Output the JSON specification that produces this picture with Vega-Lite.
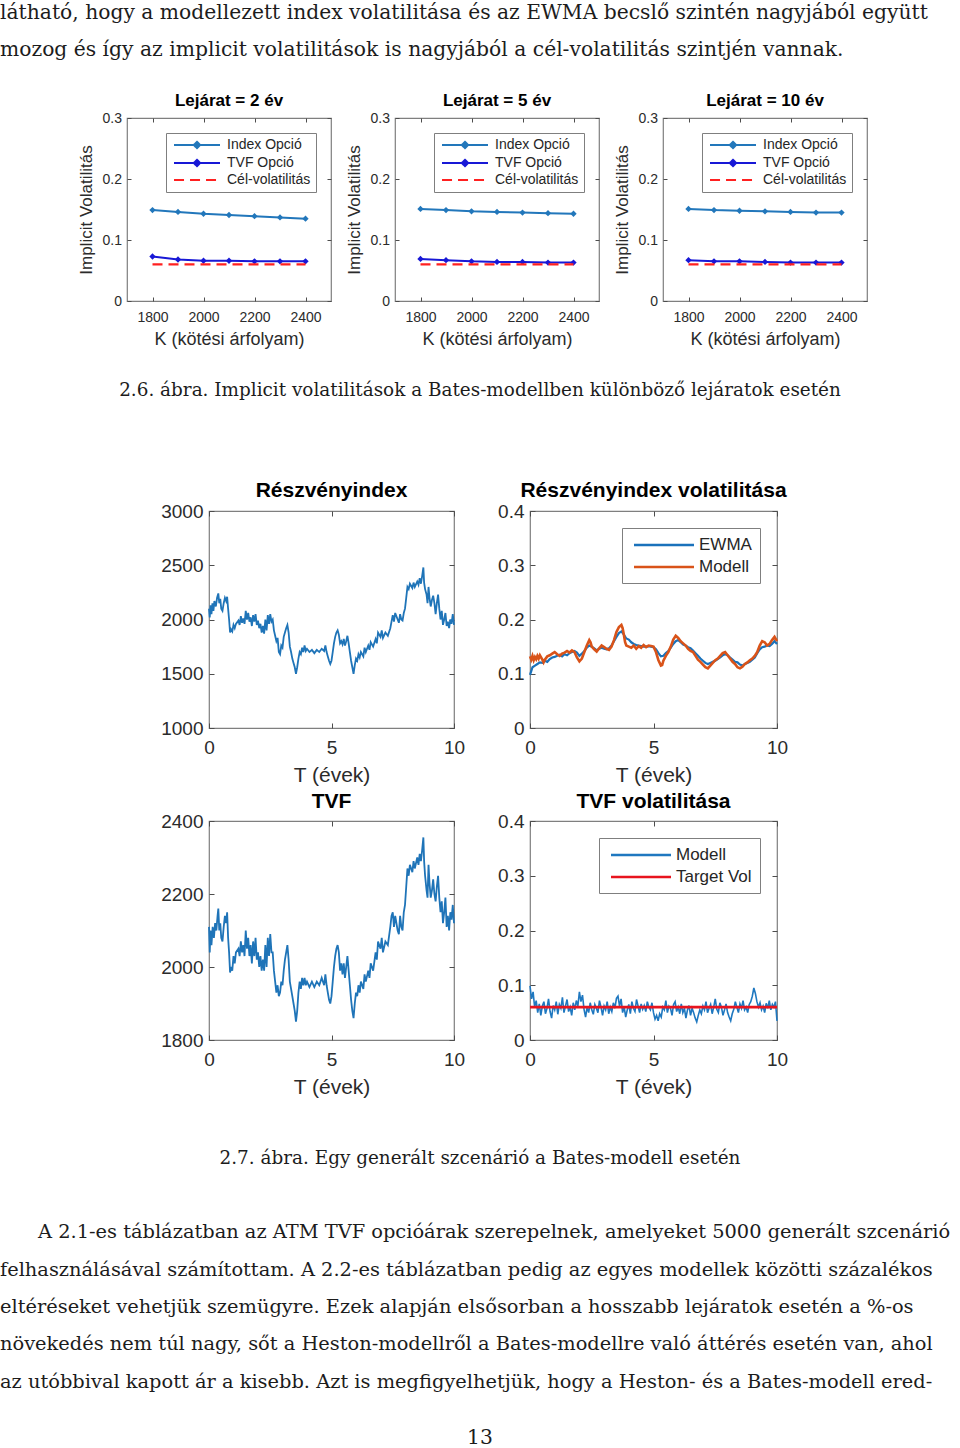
{
"$schema": "https://vega.github.io/schema/vega-lite/v6.json",
"background": "white",
"padding": 0,
"autosize": {"type": "pad"},
"spacing": 0,
"resolve": {"scale": {"color": "independent"}, "legend": {"color": "independent"}},
"config": {
  "view": {"stroke": null},
  "font": "Liberation Sans",
  "axis": {"grid": false, "domain": false, "tickColor": "#4d4d4d", "tickWidth": 1, "labelFont": "Liberation Sans", "labelColor": "#2b2b2b", "titleFont": "Liberation Sans", "titleFontWeight": "normal", "titleColor": "#2b2b2b", "labelFlush": false, "labelOverlap": false},
  "title": {"font": "Liberation Sans", "color": "#000000", "fontWeight": "bold", "anchor": "middle", "frame": "group", "baseline": "alphabetic"},
  "legend": {"title": null, "orient": "top-right", "fillColor": "white", "strokeColor": "#7f7f7f", "labelFont": "Liberation Sans", "labelColor": "#262626", "cornerRadius": 0}
},
"datasets": {
  "iv2": [
    {"K":1800,"vol":0.149,"series":"Index Opció"},{"K":1900,"vol":0.146,"series":"Index Opció"},{"K":2000,"vol":0.143,"series":"Index Opció"},{"K":2100,"vol":0.141,"series":"Index Opció"},{"K":2200,"vol":0.139,"series":"Index Opció"},{"K":2300,"vol":0.137,"series":"Index Opció"},{"K":2400,"vol":0.135,"series":"Index Opció"},
    {"K":1800,"vol":0.073,"series":"TVF Opció"},{"K":1900,"vol":0.068,"series":"TVF Opció"},{"K":2000,"vol":0.066,"series":"TVF Opció"},{"K":2100,"vol":0.066,"series":"TVF Opció"},{"K":2200,"vol":0.065,"series":"TVF Opció"},{"K":2300,"vol":0.065,"series":"TVF Opció"},{"K":2400,"vol":0.065,"series":"TVF Opció"},
    {"K":1800,"vol":0.06,"series":"Cél-volatilitás"},{"K":1900,"vol":0.06,"series":"Cél-volatilitás"},{"K":2000,"vol":0.06,"series":"Cél-volatilitás"},{"K":2100,"vol":0.06,"series":"Cél-volatilitás"},{"K":2200,"vol":0.06,"series":"Cél-volatilitás"},{"K":2300,"vol":0.06,"series":"Cél-volatilitás"},{"K":2400,"vol":0.06,"series":"Cél-volatilitás"}
  ],
  "iv5": [
    {"K":1800,"vol":0.151,"series":"Index Opció"},{"K":1900,"vol":0.149,"series":"Index Opció"},{"K":2000,"vol":0.147,"series":"Index Opció"},{"K":2100,"vol":0.146,"series":"Index Opció"},{"K":2200,"vol":0.145,"series":"Index Opció"},{"K":2300,"vol":0.144,"series":"Index Opció"},{"K":2400,"vol":0.143,"series":"Index Opció"},
    {"K":1800,"vol":0.069,"series":"TVF Opció"},{"K":1900,"vol":0.067,"series":"TVF Opció"},{"K":2000,"vol":0.065,"series":"TVF Opció"},{"K":2100,"vol":0.064,"series":"TVF Opció"},{"K":2200,"vol":0.064,"series":"TVF Opció"},{"K":2300,"vol":0.063,"series":"TVF Opció"},{"K":2400,"vol":0.063,"series":"TVF Opció"},
    {"K":1800,"vol":0.06,"series":"Cél-volatilitás"},{"K":1900,"vol":0.06,"series":"Cél-volatilitás"},{"K":2000,"vol":0.06,"series":"Cél-volatilitás"},{"K":2100,"vol":0.06,"series":"Cél-volatilitás"},{"K":2200,"vol":0.06,"series":"Cél-volatilitás"},{"K":2300,"vol":0.06,"series":"Cél-volatilitás"},{"K":2400,"vol":0.06,"series":"Cél-volatilitás"}
  ],
  "iv10": [
    {"K":1800,"vol":0.151,"series":"Index Opció"},{"K":1900,"vol":0.149,"series":"Index Opció"},{"K":2000,"vol":0.148,"series":"Index Opció"},{"K":2100,"vol":0.147,"series":"Index Opció"},{"K":2200,"vol":0.146,"series":"Index Opció"},{"K":2300,"vol":0.145,"series":"Index Opció"},{"K":2400,"vol":0.145,"series":"Index Opció"},
    {"K":1800,"vol":0.067,"series":"TVF Opció"},{"K":1900,"vol":0.065,"series":"TVF Opció"},{"K":2000,"vol":0.065,"series":"TVF Opció"},{"K":2100,"vol":0.064,"series":"TVF Opció"},{"K":2200,"vol":0.063,"series":"TVF Opció"},{"K":2300,"vol":0.063,"series":"TVF Opció"},{"K":2400,"vol":0.063,"series":"TVF Opció"},
    {"K":1800,"vol":0.06,"series":"Cél-volatilitás"},{"K":1900,"vol":0.06,"series":"Cél-volatilitás"},{"K":2000,"vol":0.06,"series":"Cél-volatilitás"},{"K":2100,"vol":0.06,"series":"Cél-volatilitás"},{"K":2200,"vol":0.06,"series":"Cél-volatilitás"},{"K":2300,"vol":0.06,"series":"Cél-volatilitás"},{"K":2400,"vol":0.06,"series":"Cél-volatilitás"}
  ],
  "idx": [
    {"t":0,"v":2100},{"t":0.03,"v":2020},{"t":0.06,"v":2130},{"t":0.1,"v":2050},{"t":0.14,"v":2150},{"t":0.18,"v":2080},{"t":0.22,"v":2170},{"t":0.28,"v":2120},{"t":0.33,"v":2200},{"t":0.38,"v":2240},{"t":0.42,"v":2150},{"t":0.46,"v":2190},{"t":0.5,"v":2100},{"t":0.55,"v":2080},{"t":0.6,"v":2150},{"t":0.65,"v":2200},{"t":0.7,"v":2170},{"t":0.74,"v":2210},{"t":0.78,"v":2100},{"t":0.82,"v":2000},{"t":0.86,"v":1880},{"t":0.9,"v":1910},{"t":0.95,"v":1890},{"t":1.0,"v":1950},{"t":1.05,"v":1920},{"t":1.1,"v":1960},{"t":1.2,"v":1990},{"t":1.25,"v":1950},{"t":1.3,"v":2030},{"t":1.35,"v":1970},{"t":1.4,"v":2010},{"t":1.45,"v":1960},{"t":1.5,"v":2080},{"t":1.55,"v":2000},{"t":1.6,"v":2060},{"t":1.65,"v":1980},{"t":1.7,"v":2020},{"t":1.75,"v":1940},{"t":1.8,"v":2040},{"t":1.85,"v":1980},{"t":1.9,"v":2050},{"t":1.95,"v":1950},{"t":2.0,"v":1990},{"t":2.05,"v":1920},{"t":2.1,"v":1960},{"t":2.15,"v":1880},{"t":2.2,"v":1940},{"t":2.25,"v":1870},{"t":2.3,"v":2000},{"t":2.35,"v":1900},{"t":2.4,"v":2040},{"t":2.45,"v":1960},{"t":2.5,"v":2050},{"t":2.55,"v":1980},{"t":2.6,"v":2000},{"t":2.65,"v":1900},{"t":2.7,"v":1850},{"t":2.75,"v":1800},{"t":2.8,"v":1830},{"t":2.85,"v":1700},{"t":2.9,"v":1680},{"t":2.95,"v":1760},{"t":3.0,"v":1740},{"t":3.05,"v":1840},{"t":3.1,"v":1880},{"t":3.15,"v":1920},{"t":3.2,"v":1950},{"t":3.25,"v":1880},{"t":3.3,"v":1750},{"t":3.35,"v":1700},{"t":3.4,"v":1640},{"t":3.45,"v":1600},{"t":3.5,"v":1560},{"t":3.55,"v":1500},{"t":3.6,"v":1560},{"t":3.65,"v":1640},{"t":3.7,"v":1700},{"t":3.75,"v":1680},{"t":3.8,"v":1740},{"t":3.85,"v":1700},{"t":3.9,"v":1760},{"t":3.95,"v":1710},{"t":4.0,"v":1730},{"t":4.1,"v":1700},{"t":4.2,"v":1720},{"t":4.3,"v":1690},{"t":4.4,"v":1720},{"t":4.5,"v":1700},{"t":4.6,"v":1730},{"t":4.7,"v":1710},{"t":4.75,"v":1760},{"t":4.8,"v":1700},{"t":4.85,"v":1660},{"t":4.9,"v":1620},{"t":4.95,"v":1590},{"t":5.0,"v":1620},{"t":5.05,"v":1700},{"t":5.1,"v":1780},{"t":5.15,"v":1840},{"t":5.2,"v":1880},{"t":5.25,"v":1900},{"t":5.3,"v":1860},{"t":5.35,"v":1780},{"t":5.4,"v":1800},{"t":5.45,"v":1770},{"t":5.5,"v":1820},{"t":5.55,"v":1760},{"t":5.6,"v":1800},{"t":5.65,"v":1850},{"t":5.7,"v":1780},{"t":5.75,"v":1700},{"t":5.8,"v":1620},{"t":5.85,"v":1560},{"t":5.9,"v":1500},{"t":5.95,"v":1580},{"t":6.0,"v":1640},{"t":6.05,"v":1620},{"t":6.1,"v":1680},{"t":6.15,"v":1650},{"t":6.2,"v":1700},{"t":6.3,"v":1660},{"t":6.35,"v":1740},{"t":6.4,"v":1700},{"t":6.5,"v":1760},{"t":6.55,"v":1720},{"t":6.6,"v":1790},{"t":6.7,"v":1750},{"t":6.8,"v":1820},{"t":6.85,"v":1780},{"t":6.9,"v":1880},{"t":7.0,"v":1840},{"t":7.05,"v":1900},{"t":7.1,"v":1830},{"t":7.2,"v":1880},{"t":7.3,"v":1850},{"t":7.4,"v":1920},{"t":7.45,"v":1980},{"t":7.5,"v":2040},{"t":7.55,"v":1980},{"t":7.6,"v":2060},{"t":7.7,"v":2000},{"t":7.75,"v":1970},{"t":7.8,"v":2050},{"t":7.85,"v":2000},{"t":7.9,"v":1990},{"t":7.95,"v":2060},{"t":8.0,"v":2100},{"t":8.05,"v":2200},{"t":8.1,"v":2300},{"t":8.15,"v":2280},{"t":8.2,"v":2330},{"t":8.3,"v":2290},{"t":8.35,"v":2340},{"t":8.4,"v":2300},{"t":8.5,"v":2350},{"t":8.55,"v":2320},{"t":8.6,"v":2380},{"t":8.65,"v":2330},{"t":8.7,"v":2400},{"t":8.75,"v":2480},{"t":8.78,"v":2340},{"t":8.82,"v":2280},{"t":8.88,"v":2230},{"t":8.92,"v":2150},{"t":8.96,"v":2300},{"t":9.0,"v":2200},{"t":9.05,"v":2120},{"t":9.1,"v":2180},{"t":9.15,"v":2220},{"t":9.2,"v":2150},{"t":9.25,"v":2050},{"t":9.3,"v":2150},{"t":9.35,"v":2230},{"t":9.4,"v":2100},{"t":9.45,"v":2000},{"t":9.5,"v":2080},{"t":9.55,"v":1950},{"t":9.6,"v":2000},{"t":9.65,"v":2060},{"t":9.7,"v":1940},{"t":9.75,"v":1980},{"t":9.8,"v":1920},{"t":9.85,"v":2000},{"t":9.9,"v":1960},{"t":9.95,"v":2050},{"t":10.0,"v":1950}
  ],
  "tvf": [
    {"t":0,"v":2110},{"t":0.03,"v":2040},{"t":0.06,"v":2100},{"t":0.1,"v":2060},{"t":0.15,"v":2110},{"t":0.2,"v":2080},{"t":0.25,"v":2120},{"t":0.3,"v":2100},{"t":0.35,"v":2140},{"t":0.38,"v":2160},{"t":0.42,"v":2100},{"t":0.46,"v":2120},{"t":0.5,"v":2080},{"t":0.55,"v":2070},{"t":0.6,"v":2110},{"t":0.65,"v":2140},{"t":0.7,"v":2120},{"t":0.74,"v":2150},{"t":0.78,"v":2080},{"t":0.82,"v":2040},{"t":0.86,"v":1985},{"t":0.9,"v":2000},{"t":0.95,"v":1990},{"t":1.0,"v":2030},{"t":1.05,"v":2010},{"t":1.1,"v":2040},{"t":1.2,"v":2050},{"t":1.25,"v":2030},{"t":1.3,"v":2070},{"t":1.35,"v":2040},{"t":1.4,"v":2060},{"t":1.45,"v":2030},{"t":1.5,"v":2100},{"t":1.55,"v":2050},{"t":1.6,"v":2080},{"t":1.65,"v":2030},{"t":1.7,"v":2060},{"t":1.75,"v":2010},{"t":1.8,"v":2070},{"t":1.85,"v":2030},{"t":1.9,"v":2080},{"t":1.95,"v":2020},{"t":2.0,"v":2040},{"t":2.05,"v":2000},{"t":2.1,"v":2030},{"t":2.15,"v":1990},{"t":2.2,"v":2020},{"t":2.25,"v":1990},{"t":2.3,"v":2060},{"t":2.35,"v":2000},{"t":2.4,"v":2080},{"t":2.45,"v":2030},{"t":2.5,"v":2090},{"t":2.55,"v":2040},{"t":2.6,"v":2040},{"t":2.65,"v":1990},{"t":2.7,"v":1960},{"t":2.75,"v":1930},{"t":2.8,"v":1950},{"t":2.85,"v":1920},{"t":2.9,"v":1930},{"t":2.95,"v":1960},{"t":3.0,"v":1950},{"t":3.05,"v":1990},{"t":3.1,"v":2020},{"t":3.15,"v":2040},{"t":3.2,"v":2060},{"t":3.25,"v":2020},{"t":3.3,"v":1960},{"t":3.35,"v":1940},{"t":3.4,"v":1920},{"t":3.45,"v":1900},{"t":3.5,"v":1880},{"t":3.55,"v":1850},{"t":3.6,"v":1880},{"t":3.65,"v":1930},{"t":3.7,"v":1960},{"t":3.75,"v":1940},{"t":3.8,"v":1970},{"t":3.85,"v":1950},{"t":3.9,"v":1970},{"t":3.95,"v":1950},{"t":4.0,"v":1960},{"t":4.1,"v":1945},{"t":4.2,"v":1960},{"t":4.3,"v":1945},{"t":4.4,"v":1960},{"t":4.5,"v":1950},{"t":4.6,"v":1970},{"t":4.7,"v":1950},{"t":4.75,"v":1980},{"t":4.8,"v":1950},{"t":4.85,"v":1930},{"t":4.9,"v":1910},{"t":4.95,"v":1900},{"t":5.0,"v":1920},{"t":5.05,"v":1960},{"t":5.1,"v":2000},{"t":5.15,"v":2030},{"t":5.2,"v":2050},{"t":5.25,"v":2060},{"t":5.3,"v":2040},{"t":5.35,"v":1990},{"t":5.4,"v":2010},{"t":5.45,"v":1980},{"t":5.5,"v":2010},{"t":5.55,"v":1970},{"t":5.6,"v":2000},{"t":5.65,"v":2030},{"t":5.7,"v":1990},{"t":5.75,"v":1950},{"t":5.8,"v":1910},{"t":5.85,"v":1880},{"t":5.9,"v":1860},{"t":5.95,"v":1900},{"t":6.0,"v":1930},{"t":6.05,"v":1920},{"t":6.1,"v":1950},{"t":6.15,"v":1930},{"t":6.2,"v":1960},{"t":6.3,"v":1940},{"t":6.35,"v":1980},{"t":6.4,"v":1960},{"t":6.5,"v":1990},{"t":6.55,"v":1970},{"t":6.6,"v":2010},{"t":6.7,"v":1990},{"t":6.8,"v":2040},{"t":6.85,"v":2020},{"t":6.9,"v":2070},{"t":7.0,"v":2050},{"t":7.05,"v":2080},{"t":7.1,"v":2040},{"t":7.2,"v":2070},{"t":7.3,"v":2060},{"t":7.4,"v":2110},{"t":7.45,"v":2140},{"t":7.5,"v":2150},{"t":7.55,"v":2110},{"t":7.6,"v":2140},{"t":7.7,"v":2100},{"t":7.75,"v":2090},{"t":7.8,"v":2140},{"t":7.85,"v":2110},{"t":7.9,"v":2100},{"t":7.95,"v":2150},{"t":8.0,"v":2170},{"t":8.05,"v":2220},{"t":8.1,"v":2270},{"t":8.15,"v":2250},{"t":8.2,"v":2280},{"t":8.3,"v":2260},{"t":8.35,"v":2290},{"t":8.4,"v":2270},{"t":8.5,"v":2300},{"t":8.55,"v":2280},{"t":8.6,"v":2310},{"t":8.65,"v":2290},{"t":8.7,"v":2320},{"t":8.75,"v":2355},{"t":8.78,"v":2290},{"t":8.82,"v":2250},{"t":8.88,"v":2210},{"t":8.92,"v":2190},{"t":8.96,"v":2280},{"t":9.0,"v":2230},{"t":9.05,"v":2190},{"t":9.1,"v":2210},{"t":9.15,"v":2240},{"t":9.2,"v":2200},{"t":9.25,"v":2180},{"t":9.3,"v":2220},{"t":9.35,"v":2250},{"t":9.4,"v":2190},{"t":9.45,"v":2150},{"t":9.5,"v":2180},{"t":9.55,"v":2120},{"t":9.6,"v":2150},{"t":9.65,"v":2190},{"t":9.7,"v":2110},{"t":9.75,"v":2140},{"t":9.8,"v":2100},{"t":9.85,"v":2150},{"t":9.9,"v":2130},{"t":9.95,"v":2170},{"t":10.0,"v":2120}
  ],
  "ivol": [
    {"t":0,"v":0.098,"s":"EWMA"},{"t":0.05,"v":0.105,"s":"EWMA"},{"t":0.1,"v":0.112,"s":"EWMA"},{"t":0.2,"v":0.115,"s":"EWMA"},{"t":0.3,"v":0.118,"s":"EWMA"},{"t":0.4,"v":0.121,"s":"EWMA"},{"t":0.5,"v":0.12,"s":"EWMA"},{"t":0.6,"v":0.124,"s":"EWMA"},{"t":0.7,"v":0.122,"s":"EWMA"},{"t":0.8,"v":0.127,"s":"EWMA"},{"t":0.9,"v":0.13,"s":"EWMA"},{"t":1.0,"v":0.131,"s":"EWMA"},{"t":1.1,"v":0.133,"s":"EWMA"},{"t":1.2,"v":0.135,"s":"EWMA"},{"t":1.3,"v":0.132,"s":"EWMA"},{"t":1.4,"v":0.136,"s":"EWMA"},{"t":1.5,"v":0.134,"s":"EWMA"},{"t":1.6,"v":0.138,"s":"EWMA"},{"t":1.7,"v":0.14,"s":"EWMA"},{"t":1.8,"v":0.142,"s":"EWMA"},{"t":1.9,"v":0.139,"s":"EWMA"},{"t":2.0,"v":0.133,"s":"EWMA"},{"t":2.1,"v":0.137,"s":"EWMA"},{"t":2.2,"v":0.142,"s":"EWMA"},{"t":2.3,"v":0.148,"s":"EWMA"},{"t":2.4,"v":0.152,"s":"EWMA"},{"t":2.5,"v":0.15,"s":"EWMA"},{"t":2.6,"v":0.147,"s":"EWMA"},{"t":2.7,"v":0.143,"s":"EWMA"},{"t":2.8,"v":0.146,"s":"EWMA"},{"t":2.9,"v":0.148,"s":"EWMA"},{"t":3.0,"v":0.146,"s":"EWMA"},{"t":3.1,"v":0.145,"s":"EWMA"},{"t":3.2,"v":0.147,"s":"EWMA"},{"t":3.3,"v":0.152,"s":"EWMA"},{"t":3.4,"v":0.16,"s":"EWMA"},{"t":3.5,"v":0.168,"s":"EWMA"},{"t":3.6,"v":0.175,"s":"EWMA"},{"t":3.7,"v":0.178,"s":"EWMA"},{"t":3.8,"v":0.172,"s":"EWMA"},{"t":3.9,"v":0.165,"s":"EWMA"},{"t":4.0,"v":0.163,"s":"EWMA"},{"t":4.1,"v":0.158,"s":"EWMA"},{"t":4.2,"v":0.155,"s":"EWMA"},{"t":4.3,"v":0.153,"s":"EWMA"},{"t":4.4,"v":0.152,"s":"EWMA"},{"t":4.5,"v":0.151,"s":"EWMA"},{"t":4.6,"v":0.15,"s":"EWMA"},{"t":4.7,"v":0.15,"s":"EWMA"},{"t":4.8,"v":0.151,"s":"EWMA"},{"t":4.9,"v":0.15,"s":"EWMA"},{"t":5.0,"v":0.149,"s":"EWMA"},{"t":5.1,"v":0.145,"s":"EWMA"},{"t":5.2,"v":0.138,"s":"EWMA"},{"t":5.3,"v":0.132,"s":"EWMA"},{"t":5.4,"v":0.133,"s":"EWMA"},{"t":5.5,"v":0.138,"s":"EWMA"},{"t":5.6,"v":0.142,"s":"EWMA"},{"t":5.7,"v":0.148,"s":"EWMA"},{"t":5.8,"v":0.155,"s":"EWMA"},{"t":5.9,"v":0.16,"s":"EWMA"},{"t":6.0,"v":0.162,"s":"EWMA"},{"t":6.1,"v":0.158,"s":"EWMA"},{"t":6.2,"v":0.154,"s":"EWMA"},{"t":6.3,"v":0.152,"s":"EWMA"},{"t":6.4,"v":0.149,"s":"EWMA"},{"t":6.5,"v":0.147,"s":"EWMA"},{"t":6.6,"v":0.143,"s":"EWMA"},{"t":6.7,"v":0.138,"s":"EWMA"},{"t":6.8,"v":0.133,"s":"EWMA"},{"t":6.9,"v":0.128,"s":"EWMA"},{"t":7.0,"v":0.124,"s":"EWMA"},{"t":7.1,"v":0.12,"s":"EWMA"},{"t":7.2,"v":0.118,"s":"EWMA"},{"t":7.3,"v":0.12,"s":"EWMA"},{"t":7.4,"v":0.122,"s":"EWMA"},{"t":7.5,"v":0.124,"s":"EWMA"},{"t":7.6,"v":0.127,"s":"EWMA"},{"t":7.7,"v":0.13,"s":"EWMA"},{"t":7.8,"v":0.134,"s":"EWMA"},{"t":7.9,"v":0.136,"s":"EWMA"},{"t":8.0,"v":0.134,"s":"EWMA"},{"t":8.1,"v":0.13,"s":"EWMA"},{"t":8.2,"v":0.126,"s":"EWMA"},{"t":8.3,"v":0.122,"s":"EWMA"},{"t":8.4,"v":0.121,"s":"EWMA"},{"t":8.5,"v":0.117,"s":"EWMA"},{"t":8.6,"v":0.115,"s":"EWMA"},{"t":8.7,"v":0.118,"s":"EWMA"},{"t":8.8,"v":0.12,"s":"EWMA"},{"t":8.9,"v":0.122,"s":"EWMA"},{"t":9.0,"v":0.126,"s":"EWMA"},{"t":9.1,"v":0.13,"s":"EWMA"},{"t":9.2,"v":0.138,"s":"EWMA"},{"t":9.3,"v":0.145,"s":"EWMA"},{"t":9.4,"v":0.149,"s":"EWMA"},{"t":9.5,"v":0.15,"s":"EWMA"},{"t":9.6,"v":0.152,"s":"EWMA"},{"t":9.7,"v":0.151,"s":"EWMA"},{"t":9.8,"v":0.155,"s":"EWMA"},{"t":9.9,"v":0.16,"s":"EWMA"},{"t":10.0,"v":0.155,"s":"EWMA"},
    {"t":0,"v":0.132,"s":"Modell"},{"t":0.05,"v":0.126,"s":"Modell"},{"t":0.1,"v":0.133,"s":"Modell"},{"t":0.15,"v":0.125,"s":"Modell"},{"t":0.2,"v":0.131,"s":"Modell"},{"t":0.25,"v":0.127,"s":"Modell"},{"t":0.3,"v":0.133,"s":"Modell"},{"t":0.35,"v":0.128,"s":"Modell"},{"t":0.4,"v":0.134,"s":"Modell"},{"t":0.5,"v":0.126,"s":"Modell"},{"t":0.55,"v":0.121,"s":"Modell"},{"t":0.6,"v":0.126,"s":"Modell"},{"t":0.7,"v":0.132,"s":"Modell"},{"t":0.8,"v":0.134,"s":"Modell"},{"t":0.9,"v":0.137,"s":"Modell"},{"t":1.0,"v":0.14,"s":"Modell"},{"t":1.1,"v":0.136,"s":"Modell"},{"t":1.2,"v":0.133,"s":"Modell"},{"t":1.3,"v":0.137,"s":"Modell"},{"t":1.4,"v":0.139,"s":"Modell"},{"t":1.5,"v":0.142,"s":"Modell"},{"t":1.6,"v":0.139,"s":"Modell"},{"t":1.7,"v":0.143,"s":"Modell"},{"t":1.8,"v":0.14,"s":"Modell"},{"t":1.9,"v":0.13,"s":"Modell"},{"t":2.0,"v":0.123,"s":"Modell"},{"t":2.1,"v":0.128,"s":"Modell"},{"t":2.2,"v":0.14,"s":"Modell"},{"t":2.3,"v":0.152,"s":"Modell"},{"t":2.4,"v":0.162,"s":"Modell"},{"t":2.45,"v":0.158,"s":"Modell"},{"t":2.5,"v":0.15,"s":"Modell"},{"t":2.6,"v":0.145,"s":"Modell"},{"t":2.7,"v":0.141,"s":"Modell"},{"t":2.8,"v":0.147,"s":"Modell"},{"t":2.9,"v":0.152,"s":"Modell"},{"t":3.0,"v":0.149,"s":"Modell"},{"t":3.1,"v":0.146,"s":"Modell"},{"t":3.2,"v":0.144,"s":"Modell"},{"t":3.3,"v":0.15,"s":"Modell"},{"t":3.4,"v":0.162,"s":"Modell"},{"t":3.5,"v":0.177,"s":"Modell"},{"t":3.6,"v":0.186,"s":"Modell"},{"t":3.7,"v":0.19,"s":"Modell"},{"t":3.75,"v":0.184,"s":"Modell"},{"t":3.8,"v":0.172,"s":"Modell"},{"t":3.85,"v":0.158,"s":"Modell"},{"t":3.9,"v":0.152,"s":"Modell"},{"t":4.0,"v":0.15,"s":"Modell"},{"t":4.1,"v":0.148,"s":"Modell"},{"t":4.2,"v":0.152,"s":"Modell"},{"t":4.3,"v":0.146,"s":"Modell"},{"t":4.4,"v":0.151,"s":"Modell"},{"t":4.5,"v":0.148,"s":"Modell"},{"t":4.6,"v":0.153,"s":"Modell"},{"t":4.7,"v":0.149,"s":"Modell"},{"t":4.8,"v":0.152,"s":"Modell"},{"t":4.9,"v":0.151,"s":"Modell"},{"t":5.0,"v":0.15,"s":"Modell"},{"t":5.1,"v":0.14,"s":"Modell"},{"t":5.2,"v":0.125,"s":"Modell"},{"t":5.3,"v":0.115,"s":"Modell"},{"t":5.35,"v":0.116,"s":"Modell"},{"t":5.4,"v":0.124,"s":"Modell"},{"t":5.5,"v":0.133,"s":"Modell"},{"t":5.6,"v":0.14,"s":"Modell"},{"t":5.7,"v":0.15,"s":"Modell"},{"t":5.8,"v":0.163,"s":"Modell"},{"t":5.9,"v":0.17,"s":"Modell"},{"t":6.0,"v":0.166,"s":"Modell"},{"t":6.1,"v":0.16,"s":"Modell"},{"t":6.2,"v":0.156,"s":"Modell"},{"t":6.3,"v":0.152,"s":"Modell"},{"t":6.4,"v":0.146,"s":"Modell"},{"t":6.5,"v":0.142,"s":"Modell"},{"t":6.6,"v":0.14,"s":"Modell"},{"t":6.7,"v":0.133,"s":"Modell"},{"t":6.8,"v":0.126,"s":"Modell"},{"t":6.9,"v":0.122,"s":"Modell"},{"t":7.0,"v":0.117,"s":"Modell"},{"t":7.1,"v":0.112,"s":"Modell"},{"t":7.2,"v":0.11,"s":"Modell"},{"t":7.3,"v":0.115,"s":"Modell"},{"t":7.4,"v":0.12,"s":"Modell"},{"t":7.5,"v":0.125,"s":"Modell"},{"t":7.6,"v":0.128,"s":"Modell"},{"t":7.7,"v":0.133,"s":"Modell"},{"t":7.8,"v":0.138,"s":"Modell"},{"t":7.9,"v":0.14,"s":"Modell"},{"t":8.0,"v":0.134,"s":"Modell"},{"t":8.1,"v":0.128,"s":"Modell"},{"t":8.2,"v":0.122,"s":"Modell"},{"t":8.3,"v":0.118,"s":"Modell"},{"t":8.4,"v":0.112,"s":"Modell"},{"t":8.5,"v":0.11,"s":"Modell"},{"t":8.6,"v":0.113,"s":"Modell"},{"t":8.7,"v":0.118,"s":"Modell"},{"t":8.8,"v":0.121,"s":"Modell"},{"t":8.9,"v":0.125,"s":"Modell"},{"t":9.0,"v":0.128,"s":"Modell"},{"t":9.1,"v":0.133,"s":"Modell"},{"t":9.2,"v":0.14,"s":"Modell"},{"t":9.3,"v":0.152,"s":"Modell"},{"t":9.4,"v":0.16,"s":"Modell"},{"t":9.5,"v":0.158,"s":"Modell"},{"t":9.6,"v":0.152,"s":"Modell"},{"t":9.7,"v":0.155,"s":"Modell"},{"t":9.8,"v":0.162,"s":"Modell"},{"t":9.9,"v":0.168,"s":"Modell"},{"t":10.0,"v":0.16,"s":"Modell"}
  ],
  "tvol": [
    {"t":0,"v":0.099,"s":"Modell"},{"t":0.0625,"v":0.075,"s":"Modell"},{"t":0.125,"v":0.088,"s":"Modell"},{"t":0.1875,"v":0.06,"s":"Modell"},{"t":0.25,"v":0.072,"s":"Modell"},{"t":0.3125,"v":0.05,"s":"Modell"},{"t":0.375,"v":0.066,"s":"Modell"},{"t":0.4375,"v":0.045,"s":"Modell"},{"t":0.5,"v":0.062,"s":"Modell"},{"t":0.5625,"v":0.07,"s":"Modell"},{"t":0.625,"v":0.048,"s":"Modell"},{"t":0.6875,"v":0.058,"s":"Modell"},{"t":0.75,"v":0.075,"s":"Modell"},{"t":0.8125,"v":0.052,"s":"Modell"},{"t":0.875,"v":0.04,"s":"Modell"},{"t":0.9375,"v":0.063,"s":"Modell"},{"t":1.0,"v":0.055,"s":"Modell"},{"t":1.0625,"v":0.07,"s":"Modell"},{"t":1.125,"v":0.047,"s":"Modell"},{"t":1.1875,"v":0.065,"s":"Modell"},{"t":1.25,"v":0.058,"s":"Modell"},{"t":1.3125,"v":0.078,"s":"Modell"},{"t":1.375,"v":0.05,"s":"Modell"},{"t":1.4375,"v":0.062,"s":"Modell"},{"t":1.5,"v":0.074,"s":"Modell"},{"t":1.5625,"v":0.052,"s":"Modell"},{"t":1.625,"v":0.06,"s":"Modell"},{"t":1.6875,"v":0.045,"s":"Modell"},{"t":1.75,"v":0.068,"s":"Modell"},{"t":1.8125,"v":0.055,"s":"Modell"},{"t":1.875,"v":0.072,"s":"Modell"},{"t":1.9375,"v":0.062,"s":"Modell"},{"t":2.0,"v":0.088,"s":"Modell"},{"t":2.0625,"v":0.07,"s":"Modell"},{"t":2.125,"v":0.082,"s":"Modell"},{"t":2.1875,"v":0.056,"s":"Modell"},{"t":2.25,"v":0.042,"s":"Modell"},{"t":2.3125,"v":0.06,"s":"Modell"},{"t":2.375,"v":0.05,"s":"Modell"},{"t":2.4375,"v":0.068,"s":"Modell"},{"t":2.5,"v":0.055,"s":"Modell"},{"t":2.5625,"v":0.047,"s":"Modell"},{"t":2.625,"v":0.065,"s":"Modell"},{"t":2.6875,"v":0.058,"s":"Modell"},{"t":2.75,"v":0.05,"s":"Modell"},{"t":2.8125,"v":0.072,"s":"Modell"},{"t":2.875,"v":0.06,"s":"Modell"},{"t":2.9375,"v":0.045,"s":"Modell"},{"t":3.0,"v":0.062,"s":"Modell"},{"t":3.0625,"v":0.055,"s":"Modell"},{"t":3.125,"v":0.07,"s":"Modell"},{"t":3.1875,"v":0.048,"s":"Modell"},{"t":3.25,"v":0.06,"s":"Modell"},{"t":3.3125,"v":0.052,"s":"Modell"},{"t":3.375,"v":0.068,"s":"Modell"},{"t":3.4375,"v":0.058,"s":"Modell"},{"t":3.5,"v":0.076,"s":"Modell"},{"t":3.5625,"v":0.08,"s":"Modell"},{"t":3.625,"v":0.062,"s":"Modell"},{"t":3.6875,"v":0.075,"s":"Modell"},{"t":3.75,"v":0.05,"s":"Modell"},{"t":3.8125,"v":0.06,"s":"Modell"},{"t":3.875,"v":0.042,"s":"Modell"},{"t":3.9375,"v":0.055,"s":"Modell"},{"t":4.0,"v":0.065,"s":"Modell"},{"t":4.0625,"v":0.048,"s":"Modell"},{"t":4.125,"v":0.07,"s":"Modell"},{"t":4.1875,"v":0.058,"s":"Modell"},{"t":4.25,"v":0.052,"s":"Modell"},{"t":4.3125,"v":0.074,"s":"Modell"},{"t":4.375,"v":0.062,"s":"Modell"},{"t":4.4375,"v":0.05,"s":"Modell"},{"t":4.5,"v":0.066,"s":"Modell"},{"t":4.5625,"v":0.056,"s":"Modell"},{"t":4.625,"v":0.063,"s":"Modell"},{"t":4.6875,"v":0.052,"s":"Modell"},{"t":4.75,"v":0.07,"s":"Modell"},{"t":4.8125,"v":0.06,"s":"Modell"},{"t":4.875,"v":0.055,"s":"Modell"},{"t":4.9375,"v":0.068,"s":"Modell"},{"t":5.0,"v":0.05,"s":"Modell"},{"t":5.0625,"v":0.038,"s":"Modell"},{"t":5.125,"v":0.045,"s":"Modell"},{"t":5.1875,"v":0.035,"s":"Modell"},{"t":5.25,"v":0.048,"s":"Modell"},{"t":5.3125,"v":0.042,"s":"Modell"},{"t":5.375,"v":0.06,"s":"Modell"},{"t":5.4375,"v":0.055,"s":"Modell"},{"t":5.5,"v":0.072,"s":"Modell"},{"t":5.5625,"v":0.05,"s":"Modell"},{"t":5.625,"v":0.062,"s":"Modell"},{"t":5.6875,"v":0.058,"s":"Modell"},{"t":5.75,"v":0.045,"s":"Modell"},{"t":5.8125,"v":0.065,"s":"Modell"},{"t":5.875,"v":0.07,"s":"Modell"},{"t":5.9375,"v":0.052,"s":"Modell"},{"t":6.0,"v":0.06,"s":"Modell"},{"t":6.0625,"v":0.048,"s":"Modell"},{"t":6.125,"v":0.066,"s":"Modell"},{"t":6.1875,"v":0.05,"s":"Modell"},{"t":6.25,"v":0.058,"s":"Modell"},{"t":6.3125,"v":0.04,"s":"Modell"},{"t":6.375,"v":0.055,"s":"Modell"},{"t":6.4375,"v":0.063,"s":"Modell"},{"t":6.5,"v":0.045,"s":"Modell"},{"t":6.5625,"v":0.058,"s":"Modell"},{"t":6.625,"v":0.05,"s":"Modell"},{"t":6.6875,"v":0.04,"s":"Modell"},{"t":6.75,"v":0.033,"s":"Modell"},{"t":6.8125,"v":0.045,"s":"Modell"},{"t":6.875,"v":0.055,"s":"Modell"},{"t":6.9375,"v":0.048,"s":"Modell"},{"t":7.0,"v":0.062,"s":"Modell"},{"t":7.0625,"v":0.055,"s":"Modell"},{"t":7.125,"v":0.07,"s":"Modell"},{"t":7.1875,"v":0.05,"s":"Modell"},{"t":7.25,"v":0.058,"s":"Modell"},{"t":7.3125,"v":0.065,"s":"Modell"},{"t":7.375,"v":0.048,"s":"Modell"},{"t":7.4375,"v":0.06,"s":"Modell"},{"t":7.5,"v":0.075,"s":"Modell"},{"t":7.5625,"v":0.056,"s":"Modell"},{"t":7.625,"v":0.05,"s":"Modell"},{"t":7.6875,"v":0.068,"s":"Modell"},{"t":7.75,"v":0.06,"s":"Modell"},{"t":7.8125,"v":0.045,"s":"Modell"},{"t":7.875,"v":0.055,"s":"Modell"},{"t":7.9375,"v":0.066,"s":"Modell"},{"t":8.0,"v":0.05,"s":"Modell"},{"t":8.0625,"v":0.042,"s":"Modell"},{"t":8.125,"v":0.035,"s":"Modell"},{"t":8.1875,"v":0.048,"s":"Modell"},{"t":8.25,"v":0.056,"s":"Modell"},{"t":8.3125,"v":0.07,"s":"Modell"},{"t":8.375,"v":0.06,"s":"Modell"},{"t":8.4375,"v":0.05,"s":"Modell"},{"t":8.5,"v":0.066,"s":"Modell"},{"t":8.5625,"v":0.058,"s":"Modell"},{"t":8.625,"v":0.072,"s":"Modell"},{"t":8.6875,"v":0.055,"s":"Modell"},{"t":8.75,"v":0.06,"s":"Modell"},{"t":8.8125,"v":0.05,"s":"Modell"},{"t":8.875,"v":0.065,"s":"Modell"},{"t":8.9375,"v":0.07,"s":"Modell"},{"t":9.0,"v":0.08,"s":"Modell"},{"t":9.0625,"v":0.095,"s":"Modell"},{"t":9.125,"v":0.085,"s":"Modell"},{"t":9.1875,"v":0.07,"s":"Modell"},{"t":9.25,"v":0.06,"s":"Modell"},{"t":9.3125,"v":0.068,"s":"Modell"},{"t":9.375,"v":0.055,"s":"Modell"},{"t":9.4375,"v":0.062,"s":"Modell"},{"t":9.5,"v":0.05,"s":"Modell"},{"t":9.5625,"v":0.067,"s":"Modell"},{"t":9.625,"v":0.058,"s":"Modell"},{"t":9.6875,"v":0.072,"s":"Modell"},{"t":9.75,"v":0.055,"s":"Modell"},{"t":9.8125,"v":0.065,"s":"Modell"},{"t":9.875,"v":0.06,"s":"Modell"},{"t":9.9375,"v":0.07,"s":"Modell"},{"t":10.0,"v":0.035,"s":"Modell"},
    {"t":0,"v":0.06,"s":"Target Vol"},{"t":10,"v":0.06,"s":"Target Vol"}
  ]
},
"vconcat": [
  {
    "width": 960, "height": 66,
    "data": {"values": [
      {"line": 1, "text": "látható, hogy a modellezett index volatilitása és az EWMA becslő szintén nagyjából együtt"},
      {"line": 2, "text": "mozog és így az implicit volatilitások is nagyjából a cél-volatilitás szintjén vannak."}
    ]},
    "mark": {"type": "text", "align": "left", "baseline": "alphabetic", "font": "DejaVu Serif", "fontSize": 20.3, "color": "#1c1c1c"},
    "encoding": {
      "x": {"datum": 0, "type": "quantitative", "scale": {"domain": [0, 1]}, "axis": null},
      "y": {"field": "line", "type": "quantitative", "scale": {"domain": [0.5, 2.268], "reverse": true}, "axis": null},
      "text": {"field": "text", "type": "nominal"}
    }
  },
  {"width": 1, "height": 24.5, "data": {"values": []}, "mark": "point"},
  {
    "hconcat": [
      {"width": 63, "height": 241.5, "data": {"values": []}, "mark": "point"},
      {
        "width": 204, "height": 183,
        "title": {"text": "Lejárat = 2 év", "fontSize": 17, "offset": 1},
        "view": {"stroke": "#7f7f7f", "strokeWidth": 1.2},
        "data": {"name": "iv2"},
        "layer": [
          {
            "transform": [{"filter": "datum.series !== 'Cél-volatilitás'"}],
            "mark": {"type": "line", "strokeWidth": 2},
            "encoding": {
              "x": {"field": "K", "type": "quantitative", "scale": {"domain": [1700, 2500]}, "axis": {"values": [1800, 2000, 2200, 2400], "format": "d", "title": "K (kötési árfolyam)", "labelFontSize": 14, "titleFontSize": 18, "tickSize": -4, "labelPadding": 13, "titlePadding": 6}},
              "y": {"field": "vol", "type": "quantitative", "scale": {"domain": [0, 0.3]}, "axis": {"values": [0, 0.1, 0.2, 0.3], "format": "~g", "title": "Implicit Volatilitás", "labelFontSize": 14, "titleFontSize": 17, "tickSize": -4, "labelPadding": 9.5, "titlePadding": 7}},
              "color": {"field": "series", "type": "nominal", "scale": {"domain": ["Index Opció", "TVF Opció", "Cél-volatilitás"], "range": ["#2277bb", "#1818d6", "#ff2020"]},
                "legend": {"offset": 15, "padding": 5, "rowPadding": 2, "labelFontSize": 14, "symbolSize": 132, "symbolStrokeWidth": 2, "symbolOffset": 19, "labelOffset": 23, "symbolType": "M-4,0L4,0",
                  "encode": {"symbols": {"update": {"shape": {"signal": "datum.value === 'Cél-volatilitás' ? 'M-4,0L4,0' : 'M-4,0L4,0M0,-0.55L0.55,0L0,0.55L-0.55,0Z'"}, "strokeDash": {"signal": "datum.value === 'Cél-volatilitás' ? [10,6] : [1,0]"}}}}}}
            }
          },
          {
            "transform": [{"filter": "datum.series !== 'Cél-volatilitás'"}],
            "mark": {"type": "point", "shape": "diamond", "filled": true, "size": 40, "opacity": 1},
            "encoding": {
              "x": {"field": "K", "type": "quantitative", "axis": null},
              "y": {"field": "vol", "type": "quantitative", "axis": null},
              "color": {"field": "series", "type": "nominal", "legend": null}
            }
          },
          {
            "transform": [{"filter": "datum.series === 'Cél-volatilitás'"}],
            "mark": {"type": "line", "strokeWidth": 2.2, "strokeDash": [10, 6], "color": "#ff2020"},
            "encoding": {
              "x": {"field": "K", "type": "quantitative", "axis": {"orient": "top", "values": [1800, 2000, 2200, 2400], "labels": false, "title": null, "tickSize": -4}},
              "y": {"field": "vol", "type": "quantitative", "axis": {"orient": "right", "values": [0, 0.1, 0.2, 0.3], "labels": false, "title": null, "tickSize": -4}}
            }
          }
        ],
        "resolve": {"axis": {"x": "independent", "y": "independent"}}
      },
      {
        "width": 204, "height": 183,
        "title": {"text": "Lejárat = 5 év", "fontSize": 17, "offset": 1},
        "view": {"stroke": "#7f7f7f", "strokeWidth": 1.2},
        "data": {"name": "iv5"},
        "layer": [
          {
            "transform": [{"filter": "datum.series !== 'Cél-volatilitás'"}],
            "mark": {"type": "line", "strokeWidth": 2},
            "encoding": {
              "x": {"field": "K", "type": "quantitative", "scale": {"domain": [1700, 2500]}, "axis": {"values": [1800, 2000, 2200, 2400], "format": "d", "title": "K (kötési árfolyam)", "labelFontSize": 14, "titleFontSize": 18, "tickSize": -4, "labelPadding": 13, "titlePadding": 6}},
              "y": {"field": "vol", "type": "quantitative", "scale": {"domain": [0, 0.3]}, "axis": {"values": [0, 0.1, 0.2, 0.3], "format": "~g", "title": "Implicit Volatilitás", "labelFontSize": 14, "titleFontSize": 17, "tickSize": -4, "labelPadding": 9.5, "titlePadding": 7}},
              "color": {"field": "series", "type": "nominal", "scale": {"domain": ["Index Opció", "TVF Opció", "Cél-volatilitás"], "range": ["#2277bb", "#1818d6", "#ff2020"]},
                "legend": {"offset": 15, "padding": 5, "rowPadding": 2, "labelFontSize": 14, "symbolSize": 132, "symbolStrokeWidth": 2, "symbolOffset": 19, "labelOffset": 23, "symbolType": "M-4,0L4,0",
                  "encode": {"symbols": {"update": {"shape": {"signal": "datum.value === 'Cél-volatilitás' ? 'M-4,0L4,0' : 'M-4,0L4,0M0,-0.55L0.55,0L0,0.55L-0.55,0Z'"}, "strokeDash": {"signal": "datum.value === 'Cél-volatilitás' ? [10,6] : [1,0]"}}}}}}
            }
          },
          {
            "transform": [{"filter": "datum.series !== 'Cél-volatilitás'"}],
            "mark": {"type": "point", "shape": "diamond", "filled": true, "size": 40, "opacity": 1},
            "encoding": {
              "x": {"field": "K", "type": "quantitative", "axis": null},
              "y": {"field": "vol", "type": "quantitative", "axis": null},
              "color": {"field": "series", "type": "nominal", "legend": null}
            }
          },
          {
            "transform": [{"filter": "datum.series === 'Cél-volatilitás'"}],
            "mark": {"type": "line", "strokeWidth": 2.2, "strokeDash": [10, 6], "color": "#ff2020"},
            "encoding": {
              "x": {"field": "K", "type": "quantitative", "axis": {"orient": "top", "values": [1800, 2000, 2200, 2400], "labels": false, "title": null, "tickSize": -4}},
              "y": {"field": "vol", "type": "quantitative", "axis": {"orient": "right", "values": [0, 0.1, 0.2, 0.3], "labels": false, "title": null, "tickSize": -4}}
            }
          }
        ],
        "resolve": {"axis": {"x": "independent", "y": "independent"}}
      },
      {
        "width": 204, "height": 183,
        "title": {"text": "Lejárat = 10 év", "fontSize": 17, "offset": 1},
        "view": {"stroke": "#7f7f7f", "strokeWidth": 1.2},
        "data": {"name": "iv10"},
        "layer": [
          {
            "transform": [{"filter": "datum.series !== 'Cél-volatilitás'"}],
            "mark": {"type": "line", "strokeWidth": 2},
            "encoding": {
              "x": {"field": "K", "type": "quantitative", "scale": {"domain": [1700, 2500]}, "axis": {"values": [1800, 2000, 2200, 2400], "format": "d", "title": "K (kötési árfolyam)", "labelFontSize": 14, "titleFontSize": 18, "tickSize": -4, "labelPadding": 13, "titlePadding": 6}},
              "y": {"field": "vol", "type": "quantitative", "scale": {"domain": [0, 0.3]}, "axis": {"values": [0, 0.1, 0.2, 0.3], "format": "~g", "title": "Implicit Volatilitás", "labelFontSize": 14, "titleFontSize": 17, "tickSize": -4, "labelPadding": 9.5, "titlePadding": 7}},
              "color": {"field": "series", "type": "nominal", "scale": {"domain": ["Index Opció", "TVF Opció", "Cél-volatilitás"], "range": ["#2277bb", "#1818d6", "#ff2020"]},
                "legend": {"offset": 15, "padding": 5, "rowPadding": 2, "labelFontSize": 14, "symbolSize": 132, "symbolStrokeWidth": 2, "symbolOffset": 19, "labelOffset": 23, "symbolType": "M-4,0L4,0",
                  "encode": {"symbols": {"update": {"shape": {"signal": "datum.value === 'Cél-volatilitás' ? 'M-4,0L4,0' : 'M-4,0L4,0M0,-0.55L0.55,0L0,0.55L-0.55,0Z'"}, "strokeDash": {"signal": "datum.value === 'Cél-volatilitás' ? [10,6] : [1,0]"}}}}}}
            }
          },
          {
            "transform": [{"filter": "datum.series !== 'Cél-volatilitás'"}],
            "mark": {"type": "point", "shape": "diamond", "filled": true, "size": 40, "opacity": 1},
            "encoding": {
              "x": {"field": "K", "type": "quantitative", "axis": null},
              "y": {"field": "vol", "type": "quantitative", "axis": null},
              "color": {"field": "series", "type": "nominal", "legend": null}
            }
          },
          {
            "transform": [{"filter": "datum.series === 'Cél-volatilitás'"}],
            "mark": {"type": "line", "strokeWidth": 2.2, "strokeDash": [10, 6], "color": "#ff2020"},
            "encoding": {
              "x": {"field": "K", "type": "quantitative", "axis": {"orient": "top", "values": [1800, 2000, 2200, 2400], "labels": false, "title": null, "tickSize": -4}},
              "y": {"field": "vol", "type": "quantitative", "axis": {"orient": "right", "values": [0, 0.1, 0.2, 0.3], "labels": false, "title": null, "tickSize": -4}}
            }
          }
        ],
        "resolve": {"axis": {"x": "independent", "y": "independent"}}
      }
    ],
    "spacing": 64,
    "bounds": "flush",
    "resolve": {"scale": {"color": "independent"}, "legend": {"color": "independent"}}
  },
  {
    "width": 960, "height": 72,
    "data": {"values": [{"text": "2.6. ábra. Implicit volatilitások a Bates-modellben különböző lejáratok esetén"}]},
    "mark": {"type": "text", "align": "center", "baseline": "alphabetic", "font": "DejaVu Serif", "fontSize": 18.4, "color": "#1c1c1c"},
    "encoding": {"text": {"field": "text", "type": "nominal"}}
  },
  {"width": 1, "height": 46.4, "data": {"values": []}, "mark": "point"},
  {
    "hconcat": [
      {"width": 133, "height": 278.4, "data": {"values": []}, "mark": "point"},
      {
        "width": 245, "height": 217,
        "title": {"text": "Részvényindex", "fontSize": 21, "offset": 1},
        "view": {"stroke": "#7f7f7f", "strokeWidth": 1.2},
        "data": {"name": "idx"},
        "layer": [
          {
            "mark": {"type": "line", "strokeWidth": 1.8, "color": "#1f74b8"},
            "encoding": {
              "x": {"field": "t", "type": "quantitative", "scale": {"domain": [0, 10]}, "axis": {"values": [0, 5, 10], "format": "d", "title": "T (évek)", "labelFontSize": 19, "titleFontSize": 21, "tickSize": -5, "labelPadding": 15, "titlePadding": 7}},
              "y": {"field": "v", "type": "quantitative", "scale": {"domain": [1000, 3000]}, "axis": {"values": [1000, 1500, 2000, 2500, 3000], "format": "d", "title": null, "labelFontSize": 19, "tickSize": -5, "labelPadding": 11}}
            }
          },
          {
            "mark": {"type": "line", "opacity": 0},
            "encoding": {
              "x": {"field": "t", "type": "quantitative", "axis": {"orient": "top", "values": [0, 5, 10], "labels": false, "title": null, "tickSize": -5}},
              "y": {"field": "v", "type": "quantitative", "axis": {"orient": "right", "values": [1000, 1500, 2000, 2500, 3000], "labels": false, "title": null, "tickSize": -5}}
            }
          }
        ],
        "resolve": {"axis": {"x": "independent", "y": "independent"}}
      },
      {
        "width": 247, "height": 217,
        "title": {"text": "Részvényindex volatilitása", "fontSize": 21, "offset": 1},
        "view": {"stroke": "#7f7f7f", "strokeWidth": 1.2},
        "data": {"name": "ivol"},
        "layer": [
          {
            "transform": [{"filter": "datum.s === 'EWMA'"}],
            "mark": {"type": "line", "strokeWidth": 2.2},
            "encoding": {
              "x": {"field": "t", "type": "quantitative", "scale": {"domain": [0, 10]}, "axis": {"values": [0, 5, 10], "format": "d", "title": "T (évek)", "labelFontSize": 19, "titleFontSize": 21, "tickSize": -5, "labelPadding": 15, "titlePadding": 7}},
              "y": {"field": "v", "type": "quantitative", "scale": {"domain": [0, 0.4]}, "axis": {"values": [0, 0.1, 0.2, 0.3, 0.4], "format": "~g", "title": null, "labelFontSize": 19, "tickSize": -5, "labelPadding": 11}},
              "color": {"field": "s", "type": "nominal", "scale": {"domain": ["EWMA", "Modell"], "range": ["#1a72bb", "#d95319"]},
                "legend": {"offset": 17, "padding": 8, "rowPadding": 5, "labelFontSize": 17, "symbolSize": 225, "symbolStrokeWidth": 2.5, "symbolOffset": 25, "labelOffset": 26, "symbolType": "M-4,0L4,0"}}
            }
          },
          {
            "transform": [{"filter": "datum.s === 'Modell'"}],
            "mark": {"type": "line", "strokeWidth": 2.6},
            "encoding": {
              "x": {"field": "t", "type": "quantitative", "axis": {"orient": "top", "values": [0, 5, 10], "labels": false, "title": null, "tickSize": -5}},
              "y": {"field": "v", "type": "quantitative", "axis": {"orient": "right", "values": [0, 0.1, 0.2, 0.3, 0.4], "labels": false, "title": null, "tickSize": -5}},
              "color": {"field": "s", "type": "nominal", "legend": null}
            }
          }
        ],
        "resolve": {"axis": {"x": "independent", "y": "independent"}}
      }
    ],
    "spacing": 76,
    "bounds": "flush",
    "resolve": {"scale": {"color": "independent"}, "legend": {"color": "independent"}}
  },
  {
    "hconcat": [
      {"width": 133, "height": 313, "data": {"values": []}, "mark": "point"},
      {
        "width": 245, "height": 219,
        "title": {"text": "TVF", "fontSize": 21, "offset": 0},
        "view": {"stroke": "#7f7f7f", "strokeWidth": 1.2},
        "data": {"name": "tvf"},
        "layer": [
          {
            "mark": {"type": "line", "strokeWidth": 1.8, "color": "#1f74b8"},
            "encoding": {
              "x": {"field": "t", "type": "quantitative", "scale": {"domain": [0, 10]}, "axis": {"values": [0, 5, 10], "format": "d", "title": "T (évek)", "labelFontSize": 19, "titleFontSize": 21, "tickSize": -5, "labelPadding": 15, "titlePadding": 7}},
              "y": {"field": "v", "type": "quantitative", "scale": {"domain": [1800, 2400]}, "axis": {"values": [1800, 2000, 2200, 2400], "format": "d", "title": null, "labelFontSize": 19, "tickSize": -5, "labelPadding": 11}}
            }
          },
          {
            "mark": {"type": "line", "opacity": 0},
            "encoding": {
              "x": {"field": "t", "type": "quantitative", "axis": {"orient": "top", "values": [0, 5, 10], "labels": false, "title": null, "tickSize": -5}},
              "y": {"field": "v", "type": "quantitative", "axis": {"orient": "right", "values": [1800, 2000, 2200, 2400], "labels": false, "title": null, "tickSize": -5}}
            }
          }
        ],
        "resolve": {"axis": {"x": "independent", "y": "independent"}}
      },
      {
        "width": 247, "height": 219,
        "title": {"text": "TVF volatilitása", "fontSize": 21, "offset": 0},
        "view": {"stroke": "#7f7f7f", "strokeWidth": 1.2},
        "data": {"name": "tvol"},
        "layer": [
          {
            "transform": [{"filter": "datum.s === 'Modell'"}],
            "mark": {"type": "line", "strokeWidth": 1.6},
            "encoding": {
              "x": {"field": "t", "type": "quantitative", "scale": {"domain": [0, 10]}, "axis": {"values": [0, 5, 10], "format": "d", "title": "T (évek)", "labelFontSize": 19, "titleFontSize": 21, "tickSize": -5, "labelPadding": 15, "titlePadding": 7}},
              "y": {"field": "v", "type": "quantitative", "scale": {"domain": [0, 0.4]}, "axis": {"values": [0, 0.1, 0.2, 0.3, 0.4], "format": "~g", "title": null, "labelFontSize": 19, "tickSize": -5, "labelPadding": 11}},
              "color": {"field": "s", "type": "nominal", "scale": {"domain": ["Modell", "Target Vol"], "range": ["#1f78c0", "#e8141e"]},
                "legend": {"offset": 17, "padding": 8, "rowPadding": 5, "labelFontSize": 17, "symbolSize": 225, "symbolStrokeWidth": 2.5, "symbolOffset": 25, "labelOffset": 26, "symbolType": "M-4,0L4,0"}}
            }
          },
          {
            "transform": [{"filter": "datum.s === 'Target Vol'"}],
            "mark": {"type": "line", "strokeWidth": 2.6},
            "encoding": {
              "x": {"field": "t", "type": "quantitative", "axis": {"orient": "top", "values": [0, 5, 10], "labels": false, "title": null, "tickSize": -5}},
              "y": {"field": "v", "type": "quantitative", "axis": {"orient": "right", "values": [0, 0.1, 0.2, 0.3, 0.4], "labels": false, "title": null, "tickSize": -5}},
              "color": {"field": "s", "type": "nominal", "legend": null}
            }
          }
        ],
        "resolve": {"axis": {"x": "independent", "y": "independent"}}
      }
    ],
    "spacing": 76,
    "bounds": "flush",
    "resolve": {"scale": {"color": "independent"}, "legend": {"color": "independent"}}
  },
  {
    "width": 960, "height": 60,
    "data": {"values": [{"text": "2.7. ábra. Egy generált szcenárió a Bates-modell esetén"}]},
    "mark": {"type": "text", "align": "center", "baseline": "alphabetic", "font": "DejaVu Serif", "fontSize": 18.4, "color": "#1c1c1c"},
    "encoding": {"text": {"field": "text", "type": "nominal"}}
  },
  {
    "width": 960, "height": 209,
    "data": {"values": [
      {"line": 1, "text": "A 2.1-es táblázatban az ATM TVF opcióárak szerepelnek, amelyeket 5000 generált szcenárió"},
      {"line": 2, "text": "felhasználásával számítottam. A 2.2-es táblázatban pedig az egyes modellek közötti százalékos"},
      {"line": 3, "text": "eltéréseket vehetjük szemügyre. Ezek alapján elsősorban a hosszabb lejáratok esetén a %-os"},
      {"line": 4, "text": "növekedés nem túl nagy, sőt a Heston-modellről a Bates-modellre való áttérés esetén van, ahol"},
      {"line": 5, "text": "az utóbbival kapott ár a kisebb. Azt is megfigyelhetjük, hogy a Heston- és a Bates-modell ered-"}
    ]},
    "encoding": {
      "x": {"datum": 0, "type": "quantitative", "scale": {"domain": [0, 1]}, "axis": null},
      "y": {"field": "line", "type": "quantitative", "scale": {"domain": [-0.1946, 5.4161], "reverse": true}, "axis": null},
      "text": {"field": "text", "type": "nominal"}
    },
    "layer": [
      {
        "transform": [{"filter": "datum.line === 1"}],
        "mark": {"type": "text", "align": "left", "baseline": "alphabetic", "font": "DejaVu Serif", "fontSize": 19.4, "color": "#1c1c1c", "dx": 38}
      },
      {
        "transform": [{"filter": "datum.line !== 1"}],
        "mark": {"type": "text", "align": "left", "baseline": "alphabetic", "font": "DejaVu Serif", "fontSize": 19.4, "color": "#1c1c1c"}
      }
    ]
  },
  {
    "width": 960, "height": 48,
    "data": {"values": [{"text": "13"}]},
    "mark": {"type": "text", "align": "center", "baseline": "alphabetic", "font": "DejaVu Serif", "fontSize": 20.3, "color": "#1c1c1c"},
    "encoding": {
      "y": {"datum": 0, "type": "quantitative", "scale": {"domain": [-0.1707, 1]}, "axis": null},
      "text": {"field": "text", "type": "nominal"}
    }
  }
]
}
